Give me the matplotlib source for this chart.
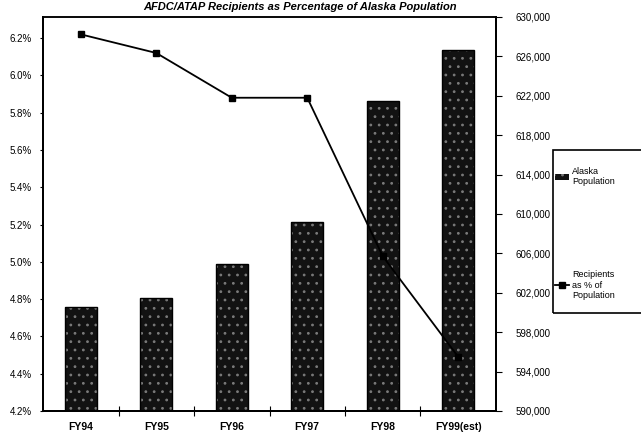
import numpy as np
import matplotlib.pyplot as plt
from matplotlib.patches import Rectangle
from matplotlib.ticker import FuncFormatter

plt.rcParams['font.family'] = ['Liberation Sans', 'DejaVu Sans']
plt.rcParams['hatch.linewidth'] = 0.8

years = ['FY94', 'FY95', 'FY96', 'FY97', 'FY98', 'FY99(est)']
population = [600600, 601500, 604900, 609200, 621500, 626600]
pct_recipients = [6.22, 6.12, 5.88, 5.88, 5.03, 4.49]

pct_ticks = [4.2, 4.4, 4.6, 4.8, 5.0, 5.2, 5.4, 5.6, 5.8, 6.0, 6.2]
pop_ticks = list(range(590000, 630001, 4000))

fig = plt.figure(figsize=(6.41, 4.34), dpi=100)
ax = fig.add_axes([43 / 641, 23 / 434, 453 / 641, 394 / 434])
axr = ax.twinx()

x = np.arange(len(years))

# population bars on the right-hand axis, speckled dark fill
axr.bar(x, population, width=0.43, color='#121212', edgecolor='#7a7a7a',
        hatch='..', linewidth=0, zorder=2)
axr.bar(x, population, width=0.43, fill=False, edgecolor='black',
        linewidth=1.0, zorder=3)
axr.set_ylim(590000, 630000)
axr.set_yticks(pop_ticks)
axr.yaxis.set_major_formatter(FuncFormatter(lambda v, p: f'{int(v):,}'))
axr.tick_params(axis='y', direction='out', length=4, width=0.8, pad=10,
                labelsize=7)

# recipients line on the left axis, kept above the bars
ax.set_zorder(axr.get_zorder() + 1)
ax.patch.set_visible(False)
ax.plot(x, pct_recipients, color='black', linewidth=1.3, marker='s',
        markersize=4)
ax.set_ylim(4.2, 6.313)
ax.set_yticks(pct_ticks)
ax.yaxis.set_major_formatter(FuncFormatter(lambda v, p: f'{v:.1f}%'))
ax.tick_params(axis='y', direction='out', length=2, width=0.8, pad=6,
               labelsize=7)

ax.set_xlim(-0.5, len(years) - 0.5)
ax.set_xticks(x)
ax.set_xticklabels(years, fontsize=7.5, fontweight='bold')
ax.set_xticks(np.arange(0.5, len(years) - 0.5), minor=True)
ax.tick_params(axis='x', which='major', length=0, pad=8)
ax.tick_params(axis='x', which='minor', direction='inout', length=7, width=0.8)

for a in (ax, axr):
    for s in a.spines.values():
        s.set_linewidth(1.4)
    a.spines['top'].set_linewidth(1.1)

fig.text(300 / 641, 1 - 2 / 434,
         'AFDC/ATAP Recipients as Percentage of Alaska Population',
         ha='center', va='top', fontsize=8, fontweight='bold',
         fontstyle='italic')

# legend with its frame running off the right edge
fig.patches.append(Rectangle((553 / 641, (434 - 313) / 434), 0.2, 163 / 434,
                             transform=fig.transFigure, fill=False,
                             edgecolor='black', linewidth=1.2))
bar_handle = Rectangle((0, 0), 1, 1, facecolor='#121212', edgecolor='#7a7a7a',
                       hatch='..', linewidth=0)
line_handle = ax.get_lines()[0]
fig.legend([bar_handle, line_handle],
           ['Alaska\nPopulation', 'Recipients\nas % of\nPopulation'],
           loc='upper left', bbox_to_anchor=(553 / 641, 1 - 165 / 434),
           frameon=False, fontsize=6.5, handlelength=1.6, handletextpad=0.3,
           labelspacing=9.3, borderaxespad=0, borderpad=0.2)

fig.savefig('out.png', dpi=100)
